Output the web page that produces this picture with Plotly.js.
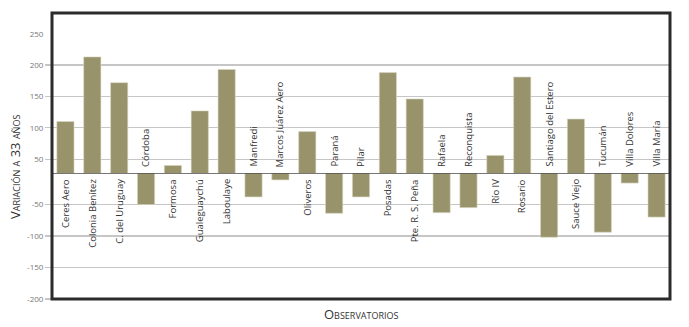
<!DOCTYPE html>
<html><head><meta charset="utf-8">
<script src="https://cdn.plot.ly/plotly-3.0.1.min.js"></script>
<style>html,body{margin:0;padding:0;background:#fff}#chart{width:689px;height:327px}</style>
</head><body><div id="chart"></div><script>
const categories = ['Ceres Aero','Colonia Benítez','C. del Uruguay','Córdoba','Formosa','Gualeguaychú','Laboulaye','Manfredi','Marcos Juárez Aero','Oliveros','Paraná','Pilar','Posadas','Pte. R. S. Peña','Rafaela','Reconquista','Río IV','Rosario','Santiago del Estero','Sauce Viejo','Tucumán','Villa Dolores','Villa María'];
const values = [110, 213, 172, -50, 40, 127, 193, -38, -11, 94, -64, -38, 188, 146, -63, -55, 56, 181, -102, 114, -94, -16, -70];
const upperTicks = [50, 100, 150, 200];
const upperTopTick = [250];
const lowerTicks = [-200, -150, -100, -50];
const lowerTickText = ['-200', '-150', '-100', '-50'];
const yTitle = 'Variación a 33 años';
const xTitle = 'Observatorios';

const barColor = '#99936c';
const gridColor = '#c6c6c6';
const tickFont = {family: 'Open Sans, sans-serif', size: 8, color: '#777'};
const catFont = {family: 'Open Sans, sans-serif', size: 9.5, color: '#333'};
const split = 0.4406;

const upper = {
  type: 'bar', x: categories,
  y: values.map(v => v > 0 ? v : null),
  xaxis: 'x', yaxis: 'y',
  marker: {color: barColor, line: {color: '#d9d6c4', width: 0.6}},
  hoverinfo: 'x+y'
};
const lower = {
  type: 'bar', x: categories,
  y: values.map(v => v < 0 ? v : null),
  xaxis: 'x', yaxis: 'y2',
  marker: {color: barColor, line: {color: '#d9d6c4', width: 0.6}},
  hoverinfo: 'x+y'
};
// empty helper trace so the overlay axis carrying the top label is drawn
const topLabelAxis = {
  type: 'scatter', mode: 'markers', x: [], y: [],
  xaxis: 'x', yaxis: 'y3', hoverinfo: 'skip', showlegend: false
};

const annotations = categories.map((c, i) => ({
  x: c, xref: 'x', y: 0, yref: 'y2',
  text: c, showarrow: false, textangle: -90,
  xanchor: 'center',
  yanchor: values[i] >= 0 ? 'top' : 'bottom',
  yshift: values[i] >= 0 ? -4 : 4,
  font: catFont
}));
annotations.push({
  x: -0.06, xref: 'paper', y: 0.4615, yref: 'paper',
  text: yTitle, showarrow: false, textangle: -90,
  xanchor: 'center', yanchor: 'middle',
  font: {family: 'Open Sans, sans-serif', size: 13, color: '#333', variant: 'small-caps'}
});
annotations.push({
  x: 0.5, xref: 'paper', y: -0.054, yref: 'paper',
  text: xTitle, showarrow: false,
  xanchor: 'center', yanchor: 'middle',
  font: {family: 'Open Sans, sans-serif', size: 13, color: '#333', variant: 'small-caps'}
});

const layout = {
  width: 689, height: 327,
  margin: {l: 52, r: 19, t: 13, b: 28},
  paper_bgcolor: '#fff', plot_bgcolor: '#fff',
  showlegend: false,
  bargap: 0.36,
  xaxis: {
    type: 'category', categoryorder: 'array', categoryarray: categories,
    range: [-0.5, categories.length - 0.5],
    showticklabels: false, ticks: '', showgrid: false, zeroline: false,
    anchor: 'y2', showline: false, fixedrange: true
  },
  yaxis: {
    domain: [split, 1], range: [28, 283],
    tickmode: 'array', tickvals: upperTicks,
    ticks: 'outside', ticklen: 6, tickcolor: gridColor, tickwidth: 1.2,
    showgrid: true, gridcolor: gridColor, gridwidth: 1.2,
    zeroline: false, showline: false, tickfont: tickFont, anchor: 'x'
  },
  yaxis3: {
    overlaying: 'y', range: [28, 283], autorange: false,
    tickmode: 'array', tickvals: upperTopTick,
    ticks: 'outside', ticklen: 6, tickcolor: 'rgba(0,0,0,0)',
    showgrid: false, zeroline: false, showline: false, tickfont: tickFont,
    anchor: 'x', side: 'left'
  },
  yaxis2: {
    domain: [0, split], range: [-200, 0],
    tickmode: 'array', tickvals: lowerTicks, ticktext: lowerTickText,
    ticks: 'outside', ticklen: 6, tickcolor: gridColor, tickwidth: 1.2,
    showgrid: true, gridcolor: gridColor, gridwidth: 1.2,
    zeroline: false, showline: false, tickfont: tickFont, anchor: 'x'
  },
  shapes: [
    {type: 'line', xref: 'paper', x0: 0, x1: 1, yref: 'y2', y0: 0, y1: 0,
     line: {color: '#4a4a4a', width: 1.5}, layer: 'above'},
    {type: 'rect', xref: 'paper', yref: 'paper', x0: 0, x1: 1, y0: 0, y1: 1,
     line: {color: '#2b2b2b', width: 3}, layer: 'above'}
  ],
  annotations: annotations
};

Plotly.newPlot('chart', [upper, lower, topLabelAxis], layout, {displayModeBar: false, staticPlot: true});
</script></body></html>
